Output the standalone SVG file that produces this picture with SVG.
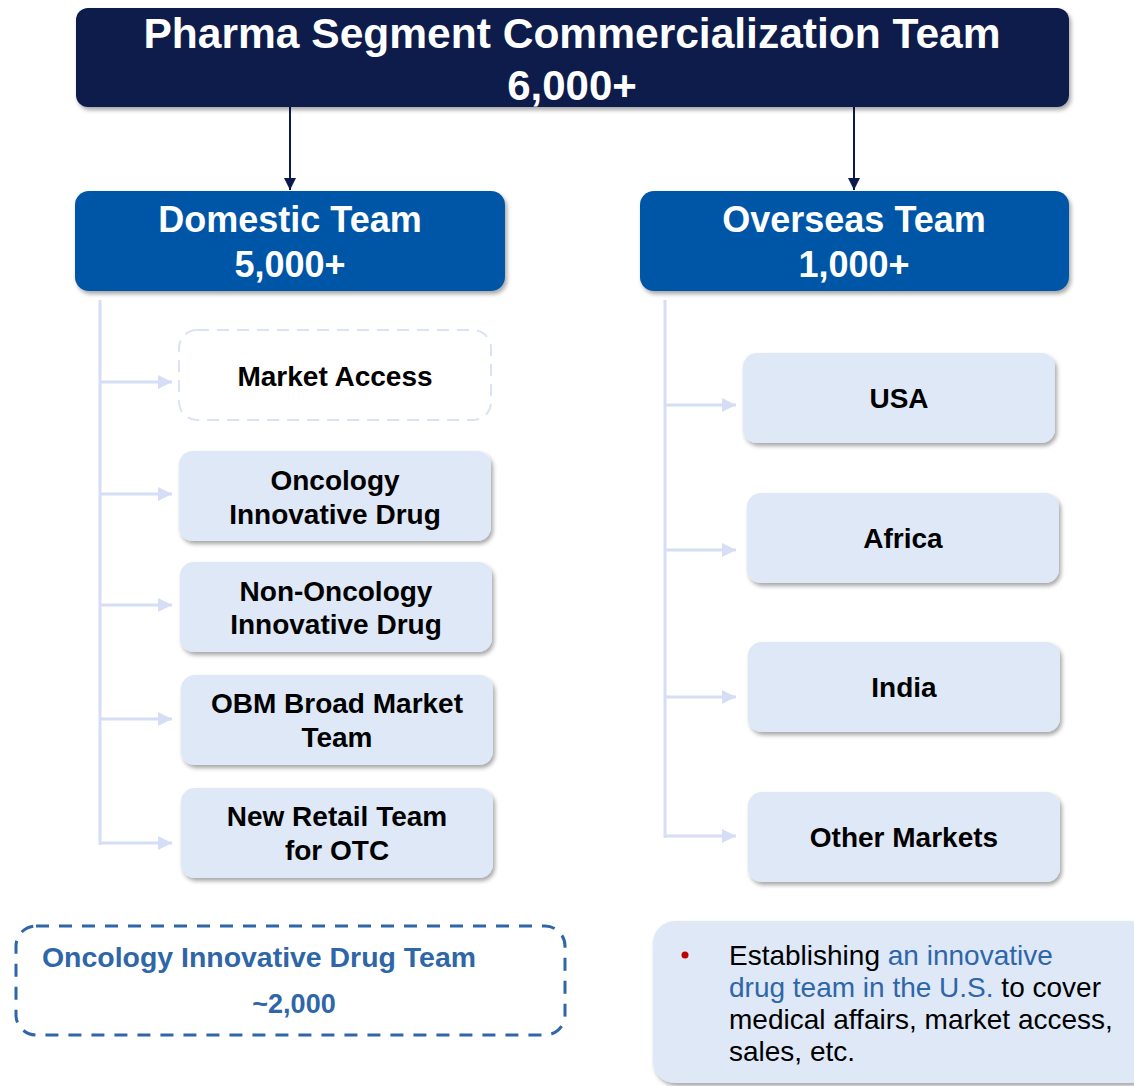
<svg xmlns="http://www.w3.org/2000/svg" width="1134" height="1086" viewBox="0 0 1134 1086">
<defs>
<filter id="sh" x="-10%" y="-20%" width="125%" height="150%">
<feDropShadow dx="2" dy="3" stdDeviation="2" flood-color="#000" flood-opacity="0.35"/>
</filter>
<marker id="ad" viewBox="0 0 12 12" refX="12" refY="6" markerWidth="12" markerHeight="12" markerUnits="userSpaceOnUse" orient="auto">
<path d="M0,0 L12,6 L0,12 Z" fill="#0B1A4C"/>
</marker>
<marker id="al" viewBox="0 0 14 14" refX="14" refY="7" markerWidth="14" markerHeight="14" markerUnits="userSpaceOnUse" orient="auto">
<path d="M0,0 L14,7 L0,14 Z" fill="#D6DEF6"/>
</marker>
</defs>
<style>
text{font-family:"Liberation Sans",Arial,sans-serif}
.w{fill:#fff;font-weight:bold;text-anchor:middle}
.n{fill:#000;font-weight:bold;font-size:28px;text-anchor:middle}
.box{fill:#DEE8F6;filter:url(#sh)}
.lc{stroke:#D6DEF6;stroke-width:3;fill:none}
.dc{stroke:#0B1A4C;stroke-width:2;fill:none}
.b{fill:#2E66A8}
</style>

<g id="connectors">
<line class="dc" x1="290" y1="107" x2="290" y2="190" marker-end="url(#ad)"/>
<line class="dc" x1="854" y1="107" x2="854" y2="190" marker-end="url(#ad)"/>
<polyline class="lc" points="100,300 100,845 100,845"/>
<line class="lc" x1="100" y1="382" x2="172" y2="382" marker-end="url(#al)"/>
<line class="lc" x1="100" y1="494" x2="172" y2="494" marker-end="url(#al)"/>
<line class="lc" x1="100" y1="605" x2="172" y2="605" marker-end="url(#al)"/>
<line class="lc" x1="100" y1="719" x2="172" y2="719" marker-end="url(#al)"/>
<line class="lc" x1="100" y1="843" x2="172" y2="843" marker-end="url(#al)"/>
<line class="lc" x1="665" y1="300" x2="665" y2="838"/>
<line class="lc" x1="665" y1="405" x2="736" y2="405" marker-end="url(#al)"/>
<line class="lc" x1="665" y1="550" x2="736" y2="550" marker-end="url(#al)"/>
<line class="lc" x1="665" y1="697" x2="736" y2="697" marker-end="url(#al)"/>
<line class="lc" x1="665" y1="836" x2="736" y2="836" marker-end="url(#al)"/>
</g>

<g id="top">
<rect x="76" y="8" width="993" height="99" rx="12" fill="#0B1A4C" filter="url(#sh)"/>
<text class="w" x="572" y="48" font-size="42" textLength="857" lengthAdjust="spacingAndGlyphs">Pharma Segment Commercialization Team</text>
<text class="w" x="572" y="100" font-size="42">6,000+</text>
</g>

<g id="domestic">
<rect x="75" y="191" width="430" height="100" rx="14" fill="#0556A6" filter="url(#sh)"/>
<text class="w" x="290" y="232" font-size="36">Domestic Team</text>
<text class="w" x="290" y="277" font-size="36">5,000+</text>
</g>

<g id="overseas">
<rect x="640" y="191" width="429" height="100" rx="14" fill="#0556A6" filter="url(#sh)"/>
<text class="w" x="854" y="232" font-size="36">Overseas Team</text>
<text class="w" x="854" y="277" font-size="36">1,000+</text>
</g>

<g id="market-access">
<rect x="179" y="330" width="312" height="90" rx="18" fill="#fff" stroke="#DAE3F5" stroke-width="2" stroke-dasharray="12 8"/>
<text class="n" x="335" y="386">Market Access</text>
</g>

<g id="oncology">
<rect class="box" x="179" y="451" width="312" height="90" rx="14"/>
<text class="n" x="335" y="490">Oncology</text>
<text class="n" x="335" y="524">Innovative Drug</text>
</g>

<g id="non-oncology">
<rect class="box" x="180" y="562" width="312" height="90" rx="14"/>
<text class="n" x="336" y="601">Non-Oncology</text>
<text class="n" x="336" y="634">Innovative Drug</text>
</g>

<g id="obm">
<rect class="box" x="181" y="675" width="312" height="90" rx="14"/>
<text class="n" x="337" y="713">OBM Broad Market</text>
<text class="n" x="337" y="747">Team</text>
</g>

<g id="new-retail">
<rect class="box" x="181" y="788" width="312" height="90" rx="14"/>
<text class="n" x="337" y="826">New Retail Team</text>
<text class="n" x="337" y="860">for OTC</text>
</g>

<g id="usa">
<rect class="box" x="743" y="353" width="312" height="90" rx="14"/>
<text class="n" x="899" y="408">USA</text>
</g>

<g id="africa">
<rect class="box" x="747" y="493" width="312" height="90" rx="14"/>
<text class="n" x="903" y="548">Africa</text>
</g>

<g id="india">
<rect class="box" x="748" y="642" width="312" height="90" rx="14"/>
<text class="n" x="904" y="697">India</text>
</g>

<g id="other-markets">
<rect class="box" x="748" y="792" width="312" height="90" rx="14"/>
<text class="n" x="904" y="847">Other Markets</text>
</g>

<g id="oncology-team-note">
<rect x="16" y="926" width="549" height="109" rx="20" fill="none" stroke="#2E66A8" stroke-width="3" stroke-dasharray="13 10"/>
<text class="b" x="42" y="967" font-size="27" font-weight="bold" textLength="434" lengthAdjust="spacingAndGlyphs">Oncology Innovative Drug Team</text>
<text class="b" x="294" y="1013" font-size="27" font-weight="bold" text-anchor="middle">~2,000</text>
</g>

<g id="us-note">
<rect x="653" y="921" width="500" height="162" rx="22" fill="#DEE8F6" filter="url(#sh)"/>
<circle cx="685" cy="955" r="3.5" fill="#C00000"/>
<text x="729" y="965" font-size="28" fill="#000">Establishing <tspan fill="#2E66A8">an innovative</tspan></text>
<text x="729" y="997" font-size="28" fill="#000"><tspan fill="#2E66A8">drug team in the U.S.</tspan> to cover</text>
<text x="729" y="1029" font-size="28" fill="#000">medical affairs, market access,</text>
<text x="729" y="1061" font-size="28" fill="#000">sales, etc.</text>
</g>
</svg>
